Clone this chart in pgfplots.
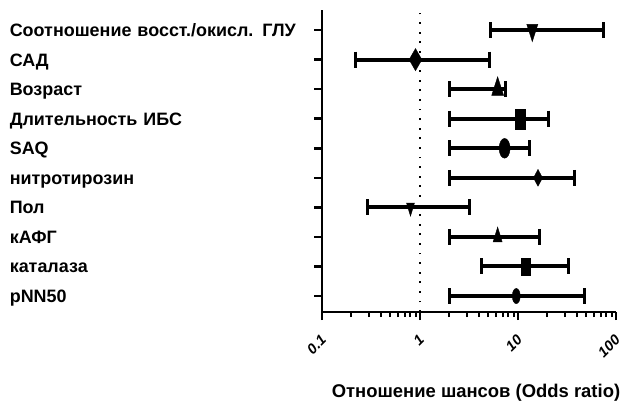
\documentclass[border=0pt]{standalone}
\usepackage{pgfplots}
\pgfplotsset{compat=1.18}
\usepackage{fontspec}
\setmainfont{Liberation Sans}
\begin{document}
\begin{tikzpicture}
\path[use as bounding box] (-322bp,-96bp) rectangle (301bp,312bp);
\begin{axis}[
  at={(0,0)}, anchor=south west,
  scale only axis, width=294bp, height=302bp,
  xmode=log, xmin=0.1, xmax=100,
  ymin=0.46, ymax=10.68,
  axis x line=bottom, axis y line=left,
  axis line style={-, line width=2.5bp},
  xtick={0.1,1,10,100}, xticklabels={0.1,1,10,100},
  minor xtick={0.2,0.3,0.4,0.5,0.6,0.7,0.8,0.9,2,3,4,5,6,7,8,9,20,30,40,50,60,70,80,90},
  ytick={1,2,3,4,5,6,7,8,9,10},
  yticklabels={pNN50,каталаза,кАФГ,Пол,нитротирозин,SAQ,Длительность ИБС,Возраст,САД,Соотношение восст./окисл. ГЛУ},
  tick align=outside,
  major tick length=8bp, minor tick length=5bp,
  tick style={line width=2.5bp, black},
  minor tick style={line width=2bp, black},
  yticklabel style={font=\bfseries\fontsize{18}{18}\selectfont, text width=304bp, align=left, inner xsep=0pt, text height=13bp, text depth=0bp},
  xticklabel style={font=\bfseries\itshape\fontsize{14.5}{14.5}\selectfont, yshift=-15bp, xshift=4bp, rotate=45, anchor=east},
  xlabel={Отношение шансов (Odds ratio)},
  xlabel style={font=\bfseries\fontsize{18.5}{18.5}\selectfont, at={(axis description cs:0.5,0)}, anchor=center, yshift=-81bp, xshift=7bp},
]
% reference line at OR = 1
\addplot[black, line width=2.5bp, dash pattern=on 1.8bp off 7.8bp] coordinates {(1,0.46) (1,10.68)};
% confidence intervals
\pgfplotsset{ci/.style={black, line width=4bp, mark=|, mark size=8bp, mark options={line width=3bp}}}
\addplot[ci] coordinates {(5.2,10) (74,10)};
\addplot[ci] coordinates {(0.22,9) (5.1,9)};
\addplot[ci] coordinates {(2,8) (7.4,8)};
\addplot[ci] coordinates {(2,7) (20.5,7)};
\addplot[ci] coordinates {(2,6) (13,6)};
\addplot[ci] coordinates {(2,5) (38,5)};
\addplot[ci] coordinates {(0.29,4) (3.2,4)};
\addplot[ci] coordinates {(2,3) (16.5,3)};
\addplot[ci] coordinates {(4.2,2) (33,2)};
\addplot[ci] coordinates {(2,1) (48,1)};
% point estimates
\addplot[only marks, black, mark=triangle*, mark size=6.4bp, mark options={rotate=180, yscale=1.8}] coordinates {(14,10)};
\addplot[only marks, black, mark=diamond*, mark size=8.5bp, mark options={yscale=1.3}] coordinates {(0.9,9)};
\addplot[only marks, black, mark=triangle*, mark size=6.9bp, mark options={yscale=1.8}] coordinates {(6.2,8)};
\addplot[only marks, black, mark=square*, mark size=5bp, mark options={yscale=2}] coordinates {(10.5,7)};
\addplot[only marks, black, mark=*, mark size=5.5bp, mark options={yscale=1.8}] coordinates {(7.3,6)};
\addplot[only marks, black, mark=diamond*, mark size=6bp, mark options={yscale=1.4}] coordinates {(16,5)};
\addplot[only marks, black, mark=triangle*, mark size=4.6bp, mark options={rotate=180, yscale=1.9}] coordinates {(0.8,4)};
\addplot[only marks, black, mark=triangle*, mark size=5.2bp, mark options={yscale=1.9}] coordinates {(6.2,3)};
\addplot[only marks, black, mark=square*, mark size=4.5bp, mark options={yscale=1.9}] coordinates {(12,2)};
\addplot[only marks, black, mark=*, mark size=4bp, mark options={yscale=1.9}] coordinates {(9.6,1)};
\end{axis}
\end{tikzpicture}
\end{document}
